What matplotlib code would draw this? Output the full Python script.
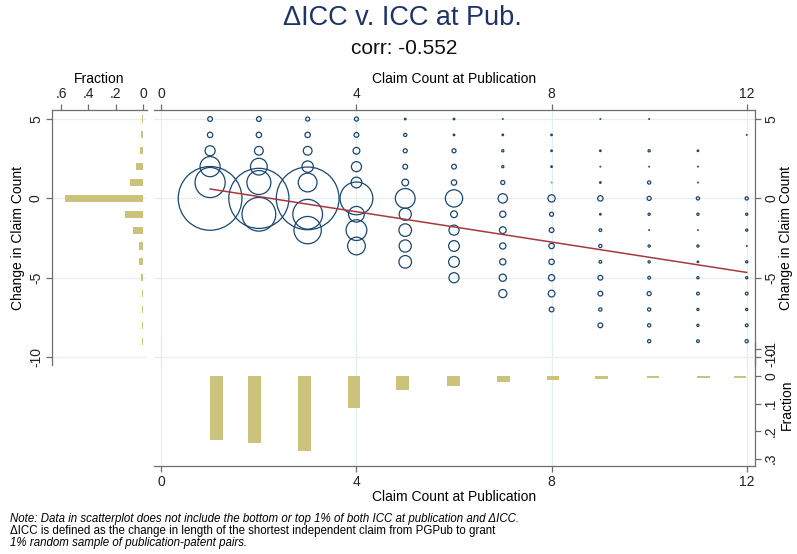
import numpy as np
import matplotlib
matplotlib.use("Agg")
import matplotlib.pyplot as plt

plt.rcParams["font.family"] = ["Liberation Sans", "DejaVu Sans"]

# claim count at publication (x) and change in claim count (y)
icc_pub = list(range(1, 13))
delta_icc = [5, 4, 3, 2, 1, 0, -1, -2, -3, -4, -5, -6, -7, -8, -9]

# relative frequency of each (icc_pub, delta_icc) cell; rows follow icc_pub,
# columns follow delta_icc (5 down to -9)
bubble_freq = [
    [9, 11, 32, 114, 246, 1056, 0, 0, 0, 0, 0, 0, 0, 0, 0],
    [9, 11, 25, 81, 159, 942, 306, 0, 0, 0, 0, 0, 0, 0, 0],
    [7, 11, 25, 40, 100, 1024, 240, 204, 0, 0, 0, 0, 0, 0, 0],
    [7, 9, 16, 32, 36, 289, 72, 121, 90, 0, 0, 0, 0, 0, 0],
    [2, 5, 7, 9, 16, 110, 45, 48, 45, 48, 0, 0, 0, 0, 0],
    [2, 2, 7, 9, 11, 86, 16, 32, 36, 36, 32, 0, 0, 0, 0],
    [1, 2, 3, 3, 7, 28, 14, 16, 14, 14, 18, 22, 0, 0, 0],
    [0, 2, 2, 2, 0.5, 18, 7, 9, 11, 11, 14, 16, 9, 0, 0],
    [1, 0, 2, 1, 2, 11, 2, 4, 5, 4, 9, 9, 5, 9, 0],
    [1, 0, 3, 1, 5, 7, 3, 1, 3, 3, 4, 7, 5, 5, 5],
    [0, 0, 2, 1, 1, 5, 3, 1, 3, 2, 3, 4, 3, 3, 4],
    [0, 1, 0, 0, 0, 5, 3, 3, 1, 3, 3, 4, 3, 4, 5],
]

# linear fit of delta_icc on icc_pub
fit_intercept = 1.07
fit_slope = -0.478

# marginal histogram of delta_icc
hist_y_vals = [5, 4, 3, 2, 1, 0, -1, -2, -3, -4, -5, -6, -7, -8, -9]
hist_y_frac = [0.007, 0.012, 0.02, 0.049, 0.093, 0.571, 0.13, 0.074, 0.032,
               0.025, 0.015, 0.01, 0.01, 0.01, 0.01]

# marginal histogram of icc_pub (bin left edges and fractions)
hist_x_left = [1.0, 1.78, 2.8, 3.82, 4.82, 5.86, 6.88, 7.9, 8.9, 9.95, 10.98, 11.73]
hist_x_frac = [0.233, 0.245, 0.271, 0.118, 0.05, 0.036, 0.021, 0.016, 0.011,
               0.007, 0.007, 0.007]

navy = "#1a476f"
khaki = "#cbc27c"
maroon = "#a8383f"
axis_col = "#6e6e6e"
grid_col = "#e6eff0"

fig = plt.figure(figsize=(7.97, 5.54), dpi=100)
W, H = 797, 554


def box(x0, y0, x1, y1):
    return [x0 / W, 1 - y1 / H, (x1 - x0) / W, (y1 - y0) / H]


def style(ax, spines):
    for name, sp in ax.spines.items():
        sp.set_visible(name in spines)
        sp.set_color(axis_col)
        sp.set_linewidth(0.9)
    ax.tick_params(colors=axis_col, labelcolor="#222222", length=4,
                   width=0.9, labelsize=10, pad=2.5)


# bottom histogram (drawn first, sits under the scatter)
ax_bot = fig.add_axes(box(154, 343, 755, 466))
ax_bot.patch.set_alpha(0)
ax_bot.bar(hist_x_left, hist_x_frac, width=0.26, align="edge", color=khaki,
           zorder=2)
ax_bot.set_xlim(-0.15, 12.17)
ax_bot.set_ylim(0.327, -0.12)
ax_bot.set_xticks([0, 4, 8, 12])
ax_bot.set_yticks([-0.1, 0, 0.1, 0.2, 0.3])
ax_bot.set_yticklabels(["-.1", "0", ".1", ".2", ".3"], rotation=90,
                       va="center")
ax_bot.yaxis.tick_right()
ax_bot.yaxis.set_label_position("right")
ax_bot.set_xlabel("Claim Count at Publication", fontsize=10, labelpad=1)
ax_bot.set_ylabel("Fraction", fontsize=10, rotation=90, labelpad=1)
ax_bot.grid(True, axis="x", color=grid_col, linewidth=0.9, zorder=0)
style(ax_bot, ["bottom", "right"])

# main scatter
ax = fig.add_axes(box(154, 110, 755, 365))
ax.patch.set_alpha(0)
lw = 0.9
for i, xv in enumerate(icc_pub):
    for j, yv in enumerate(delta_icc):
        f = bubble_freq[i][j]
        if f <= 0:
            continue
        d = max(1.44 * np.sqrt(f) - lw, 0.3)
        ax.scatter(xv, yv, s=d ** 2, facecolors="none", edgecolors=navy,
                   linewidths=lw, zorder=3)
xs = np.array([icc_pub[0], icc_pub[-1]])
ax.plot(xs, fit_intercept + fit_slope * xs, color=maroon, linewidth=1.1,
        zorder=4)
ax.set_xlim(-0.15, 12.17)
ax.set_ylim(-10.5, 5.57)
ax.set_xticks([0, 4, 8, 12])
ax.set_yticks([5, 0, -5, -10])
ax.set_yticklabels(["5", "0", "-5", "-10"], rotation=90, va="center")
ax.xaxis.tick_top()
ax.xaxis.set_label_position("top")
ax.yaxis.tick_right()
ax.yaxis.set_label_position("right")
ax.set_xlabel("Claim Count at Publication", fontsize=10, labelpad=3)
ax.set_ylabel("Change in Claim Count", fontsize=10, rotation=90, labelpad=1)
ax.grid(True, color=grid_col, linewidth=0.9, zorder=0)
style(ax, ["top", "right"])

# left histogram
ax_left = fig.add_axes(box(52, 110, 147, 365))
ax_left.patch.set_alpha(0)
ax_left.barh(hist_y_vals, hist_y_frac, height=0.45, color=khaki, zorder=2)
ax_left.set_xlim(0.666, -0.03)
ax_left.set_ylim(-10.5, 5.57)
ax_left.set_xticks([0.6, 0.4, 0.2, 0])
ax_left.set_xticklabels([".6", ".4", ".2", "0"])
ax_left.set_yticks([5, 0, -5, -10])
ax_left.set_yticklabels(["5", "0", "-5", "-10"], rotation=90, va="center")
ax_left.xaxis.tick_top()
ax_left.xaxis.set_label_position("top")
ax_left.set_xlabel("Fraction", fontsize=10, labelpad=3)
ax_left.set_ylabel("Change in Claim Count", fontsize=10, labelpad=3)
ax_left.grid(True, axis="y", color=grid_col, linewidth=0.9, zorder=0)
style(ax_left, ["top", "left"])

fig.text(402 / W, 1 - 18 / H, "\u0394ICC v. ICC at Pub.", fontsize=19.5,
         color="#1e3466", ha="center", va="center")
fig.text(404 / W, 1 - 48 / H, "corr: -0.552", fontsize=15,
         color="#111111", ha="center", va="center")

note_fs = 8.3
fig.text(10 / W, 1 - 519 / H,
         "Note: Data in scatterplot does not include the bottom or top 1% of "
         "both ICC at publication and \u0394ICC.",
         fontsize=note_fs, style="italic", va="center")
fig.text(10 / W, 1 - 531 / H,
         "\u0394ICC is defined as the change in length of the shortest "
         "independent claim from PGPub to grant",
         fontsize=note_fs, va="center")
fig.text(10 / W, 1 - 543 / H,
         "1% random sample of publication-patent pairs.",
         fontsize=note_fs, style="italic", va="center")

fig.savefig("out.png", dpi=100)
